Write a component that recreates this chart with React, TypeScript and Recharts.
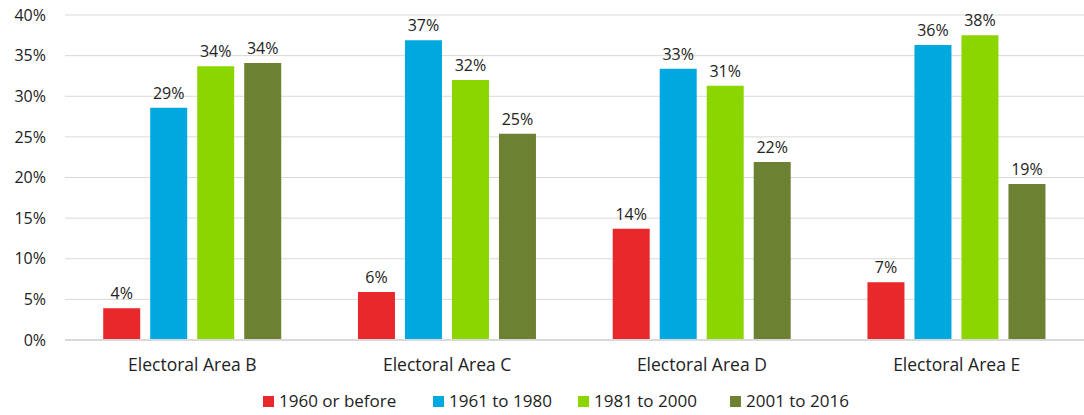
import { BarChart, Bar, XAxis, YAxis, CartesianGrid, Legend, LabelList } from 'recharts';

const areas = ['Electoral Area B', 'Electoral Area C', 'Electoral Area D', 'Electoral Area E'];
const before1960 = [3.9, 5.9, 13.7, 7.1];
const from1961 = [28.6, 36.9, 33.4, 36.3];
const from1981 = [33.7, 32.0, 31.3, 37.5];
const from2001 = [34.1, 25.4, 21.9, 19.2];
const yTicks = [0, 5, 10, 15, 20, 25, 30, 35, 40];

const series = [
  { key: 'before1960', name: '1960 or before', color: '#E8282B', slot: 170 },
  { key: 'from1961', name: '1961 to 1980', color: '#00A8E0', slot: 145 },
  { key: 'from1981', name: '1981 to 2000', color: '#8CD600', slot: 152 },
  { key: 'from2001', name: '2001 to 2016', color: '#6D8133', slot: 130 },
];

const data = areas.map((area, i) => ({
  area,
  before1960: before1960[i],
  from1961: from1961[i],
  from1981: from1981[i],
  from2001: from2001[i],
}));

const font = "'Open Sans', 'Liberation Sans', sans-serif";
const textColor = '#222';

// legend slots sized to sit where the reference puts each entry
const renderLegend = () => (
  <div style={{ display: 'flex', fontFamily: font, fontSize: 17, color: textColor, lineHeight: '24px' }}>
    {series.map((s) => (
      <div key={s.key} style={{ display: 'flex', alignItems: 'center', width: s.slot, whiteSpace: 'nowrap' }}>
        <span style={{ width: 11, height: 11, background: s.color, marginRight: 5, display: 'inline-block' }} />
        <span>{s.name}</span>
      </div>
    ))}
  </div>
);

export default function App() {
  return (
    <div style={{ position: 'absolute', left: 0, top: 0, background: '#fff' }}>
      <BarChart
        width={1084}
        height={415}
        data={data}
        margin={{ top: 15, right: 0, bottom: 21, left: 1 }}
        barCategoryGap="15%"
        barGap={10}
      >
        <CartesianGrid vertical={false} stroke="#d9d9d9" />
        <XAxis
          dataKey="area"
          tickLine={false}
          tickSize={0}
          tickMargin={19}
          axisLine={{ stroke: '#d9d9d9', strokeWidth: 2 }}
          tick={{ fill: textColor, fontSize: 17.5, fontFamily: font }}
        />
        <YAxis
          width={64}
          domain={[0, 40]}
          ticks={yTicks}
          interval={0}
          tickLine={false}
          tickSize={0}
          tickMargin={19}
          axisLine={false}
          tickFormatter={(v) => `${v}%`}
          tick={{ fill: textColor, fontSize: 16, fontFamily: font }}
        />
        <Legend
          verticalAlign="bottom"
          content={renderLegend}
          wrapperStyle={{ left: 263, bottom: 2, width: 'auto' }}
        />
        {series.map((s) => (
          <Bar key={s.key} dataKey={s.key} name={s.name} fill={s.color} isAnimationActive={false}>
            <LabelList
              dataKey={s.key}
              position="top"
              offset={9}
              formatter={(v: number) => `${Math.round(v)}%`}
              style={{ fill: textColor, fontSize: 16, fontFamily: font }}
            />
          </Bar>
        ))}
      </BarChart>
    </div>
  );
}
